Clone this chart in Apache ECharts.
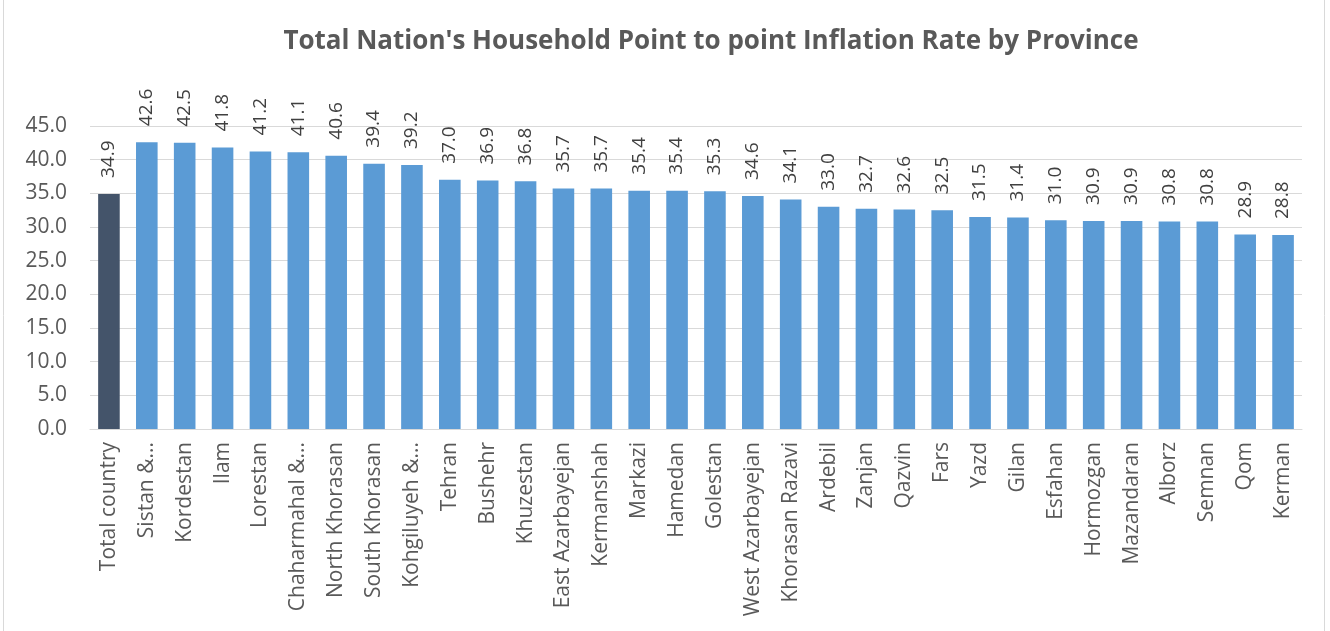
<!DOCTYPE html>
<html>
<head>
<meta charset="utf-8">
<script src="https://cdn.jsdelivr.net/npm/echarts@6/dist/echarts.min.js"></script>
<style>
  html, body { margin: 0; padding: 0; background: #fff; }
  #chart { width: 1330px; height: 631px; }
</style>
</head>
<body>
<div id="chart"></div>
<script>
// provinces, sorted as in the source sheet
const provinces = [
  'Total country', 'Sistan &...', 'Kordestan', 'Ilam', 'Lorestan', 'Chaharmahal &...',
  'North Khorasan', 'South Khorasan', 'Kohgiluyeh &...', 'Tehran', 'Bushehr', 'Khuzestan',
  'East Azarbayejan', 'Kermanshah', 'Markazi', 'Hamedan', 'Golestan', 'West Azarbayejan',
  'Khorasan Razavi', 'Ardebil', 'Zanjan', 'Qazvin', 'Fars', 'Yazd', 'Gilan', 'Esfahan',
  'Hormozgan', 'Mazandaran', 'Alborz', 'Semnan', 'Qom', 'Kerman'
]
const inflation = [
  34.9, 42.6, 42.5, 41.8, 41.2, 41.1, 40.6, 39.4, 39.2, 37.0, 36.9, 36.8,
  35.7, 35.7, 35.4, 35.4, 35.3, 34.6, 34.1, 33.0, 32.7, 32.6, 32.5, 31.5,
  31.4, 31.0, 30.9, 30.9, 30.8, 30.8, 28.9, 28.8
]
const yTicks = { min: 0, max: 45, interval: 5 }

const font = '"Open Sans", "Noto Sans", sans-serif'
const chart = echarts.init(document.getElementById('chart'))

const option = {
  animation: false,
  title: {
    text: "Total Nation's Household Point to point Inflation Rate by Province",
    left: 706,
    top: 24,
    textAlign: 'center',
    textStyle: { fontFamily: font, fontSize: 26, fontWeight: 'bold', color: '#595959' }
  },
  graphic: [{
    type: 'rect',
    shape: { x: 3.5, y: -2, width: 1321, height: 640 },
    style: { fill: 'none', stroke: '#D9D9D9', lineWidth: 1 },
    silent: true
  }],
  grid: { left: 90, right: 28, top: 126, bottom: 202, containLabel: false },
  xAxis: {
    type: 'category',
    data: provinces,
    axisTick: { show: false },
    axisLine: { lineStyle: { color: '#D9D9D9' } },
    axisLabel: {
      rotate: 90, interval: 0, margin: 13,
      fontFamily: font, fontSize: 21, color: '#595959'
    }
  },
  yAxis: {
    type: 'value',
    min: yTicks.min, max: yTicks.max, interval: yTicks.interval,
    axisLine: { show: false },
    axisTick: { show: false },
    splitLine: { lineStyle: { color: '#D9D9D9' } },
    axisLabel: {
      formatter: v => v.toFixed(1), margin: 23,
      fontFamily: font, fontSize: 21, color: '#595959'
    }
  },
  series: [{
    type: 'bar',
    data: inflation.map((v, i) => i === 0 ? { value: v, itemStyle: { color: '#44546A' } } : v),
    itemStyle: { color: '#5B9BD5' },
    barCategoryGap: '43%',
    label: {
      show: true, position: 'top', rotate: 90, distance: 16,
      align: 'left', verticalAlign: 'middle',
      formatter: p => p.value.toFixed(1),
      fontFamily: font, fontSize: 19, color: '#404040'
    }
  }]
}
chart.setOption(option)
</script>
</body>
</html>
